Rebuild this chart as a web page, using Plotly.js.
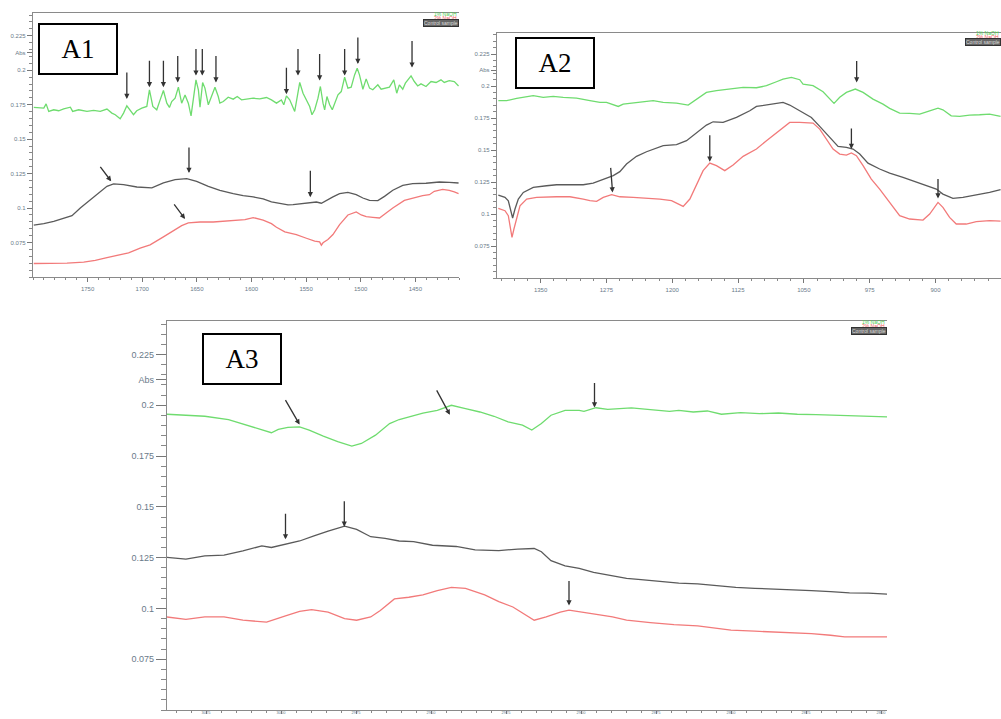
<!DOCTYPE html>
<html>
<head>
<meta charset="utf-8">
<script src="https://cdn.plot.ly/plotly-3.0.1.min.js"></script>
<style>html,body{margin:0;padding:0;background:#fff}#chart{width:1001px;height:719px}</style>
</head>
<body>
<div id="chart"></div>
<script>
// ---------------- DATA ----------------
// Panel A1 (1800-1410 cm-1)
const a1GreenWn = [1799.3,1790.1,1788.0,1785.6,1781.0,1776.5,1771.9,1765.8,1763.7,1758.2,1750.6,1744.5,1738.4,1732.3,1727.8,1724.7,1720.2,1717.1,1714.1,1711.0,1708.0,1705.0,1700.4,1695.8,1693.4,1690.3,1686.7,1683.6,1680.6,1677.5,1675.1,1673.0,1669.9,1666.9,1663.9,1660.8,1657.8,1655.3,1653.2,1650.8,1648.6,1647.1,1644.7,1642.6,1639.5,1636.5,1633.4,1630.4,1628.9,1625.8,1621.3,1616.7,1613.0,1609.1,1604.5,1598.4,1592.4,1586.3,1581.7,1577.1,1572.6,1570.4,1568.0,1565.0,1560.4,1558.0,1555.8,1552.8,1549.7,1546.7,1544.6,1542.1,1539.1,1536.9,1534.5,1533.0,1530.9,1528.4,1526.0,1523.9,1520.8,1517.8,1514.7,1511.7,1508.7,1505.6,1503.2,1501.1,1498.0,1495.0,1491.9,1488.9,1484.3,1481.3,1476.7,1473.7,1469.7,1467.0,1464.6,1461.5,1459.1,1456.0,1453.9,1450.9,1447.8,1444.8,1440.2,1435.6,1431.0,1426.5,1423.5,1418.9,1414.3,1410.4];
const a1GreenAbs = [0.1730,0.1725,0.1756,0.1701,0.1713,0.1706,0.1720,0.1732,0.1701,0.1713,0.1701,0.1708,0.1701,0.1718,0.1689,0.1677,0.1648,0.1689,0.1742,0.1713,0.1677,0.1706,0.1725,0.1737,0.1858,0.1737,0.1713,0.1785,0.1853,0.1761,0.1730,0.1773,0.1797,0.1877,0.1761,0.1821,0.1761,0.1669,0.1785,0.1930,0.1858,0.1732,0.1911,0.1870,0.1749,0.1809,0.1877,0.1809,0.1761,0.1773,0.1804,0.1790,0.1809,0.1785,0.1792,0.1797,0.1792,0.1802,0.1785,0.1761,0.1785,0.1749,0.1814,0.1785,0.1701,0.1809,0.1911,0.1833,0.1785,0.1737,0.1677,0.1713,0.1797,0.1882,0.1761,0.1713,0.1809,0.1749,0.1713,0.1761,0.1821,0.1845,0.1949,0.1870,0.1877,0.1966,0.2014,0.1966,0.1862,0.1937,0.1870,0.1858,0.1894,0.1862,0.1870,0.1877,0.1930,0.1833,0.1894,0.1862,0.1906,0.1935,0.1959,0.1918,0.1886,0.1901,0.1882,0.1918,0.1911,0.1930,0.1911,0.1924,0.1918,0.1886];
const a1BlackWn = [1799.3,1790.1,1781.0,1773.4,1764.3,1756.7,1747.5,1738.4,1732.3,1726.2,1717.1,1704.9,1691.2,1680.6,1669.9,1659.3,1650.2,1639.5,1628.9,1616.7,1607.6,1598.4,1589.3,1581.7,1574.1,1566.5,1561.9,1555.8,1546.7,1540.6,1536.0,1531.5,1525.4,1519.3,1511.7,1504.1,1498.0,1491.9,1484.3,1478.2,1470.6,1461.5,1452.4,1440.2,1428.0,1418.9,1410.4];
const a1BlackAbs = [0.0876,0.0887,0.0904,0.0921,0.0945,0.1001,0.1061,0.1122,0.1158,0.1175,0.1170,0.1153,0.1146,0.1182,0.1206,0.1213,0.1194,0.1158,0.1129,0.1105,0.1090,0.1081,0.1066,0.1045,0.1032,0.1023,0.1025,0.1032,0.1042,0.1044,0.1035,0.1056,0.1081,0.1105,0.1114,0.1097,0.1073,0.1056,0.1054,0.1085,0.1129,0.1165,0.1177,0.1180,0.1189,0.1187,0.1182];
const a1RedWn = [1799.3,1784.1,1768.9,1753.6,1743.0,1732.3,1723.2,1712.5,1701.9,1692.8,1680.6,1671.5,1663.9,1657.8,1647.1,1635.0,1622.8,1613.6,1606.0,1598.4,1589.3,1581.7,1577.1,1569.5,1558.9,1549.7,1542.1,1537.6,1536.0,1534.5,1530.0,1525.4,1519.3,1511.7,1504.1,1499.5,1494.9,1488.9,1482.8,1476.7,1470.6,1460.0,1452.4,1443.3,1437.1,1432.6,1425.0,1418.9,1414.3,1410.4];
const a1RedAbs = [0.0598,0.0598,0.0600,0.0608,0.0620,0.0641,0.0658,0.0675,0.0709,0.0733,0.0791,0.0837,0.0873,0.0892,0.0899,0.0899,0.0904,0.0909,0.0916,0.0931,0.0912,0.0887,0.0861,0.0827,0.0808,0.0781,0.0760,0.0755,0.0731,0.0748,0.0772,0.0808,0.0880,0.0950,0.0972,0.0950,0.0938,0.0933,0.0928,0.0965,0.1001,0.1056,0.1073,0.1090,0.1097,0.1122,0.1136,0.1129,0.1117,0.1105];
const a1ArrowWn  = [1714.1,1693.4,1680.6,1667.5,1650.8,1645.0,1632.5,1568.0,1557.4,1537.6,1514.7,1502.6,1453.0, 1728.4,1657.2,1546.1, 1660.8];
const a1ArrowAbs = [0.1792,0.1877,0.1877,0.1911,0.1961,0.1961,0.1911,0.1826,0.1961,0.1925,0.1961,0.2045,0.2019, 0.1194,0.1254,0.1078, 0.0921];

// Panel A2 (1400-825 cm-1)
const a2GreenWn = [1398.2,1388.7,1377.3,1369.7,1358.4,1347.0,1335.6,1324.2,1309.0,1293.8,1282.4,1274.9,1261.5,1255.9,1244.5,1233.1,1221.7,1210.3,1195.1,1181.8,1172.4,1161.0,1149.6,1134.4,1119.2,1104.0,1092.6,1081.2,1073.7,1064.2,1054.7,1050.9,1039.5,1028.1,1015.6,1009.1,1001.5,991.3,982.5,971.2,959.8,952.2,940.8,929.4,918.0,906.6,897.1,891.5,882.0,872.5,861.1,849.7,838.3,825.8];
const a2GreenAbs = [0.1886,0.1886,0.1904,0.1912,0.1925,0.1912,0.1919,0.1912,0.1906,0.1886,0.1872,0.1872,0.1841,0.1859,0.1867,0.1878,0.1886,0.1872,0.1867,0.1852,0.1898,0.1951,0.1964,0.1977,0.1990,0.1987,0.2003,0.2034,0.2055,0.2068,0.2050,0.2016,0.2003,0.1956,0.1865,0.1912,0.1951,0.1977,0.1951,0.1898,0.1859,0.1826,0.1789,0.1787,0.1781,0.1807,0.1828,0.1815,0.1768,0.1763,0.1773,0.1776,0.1781,0.1763];
const a2BlackWn = [1398.2,1390.6,1386.8,1384.2,1381.9,1379.2,1375.4,1369.7,1358.4,1343.2,1331.8,1316.6,1301.4,1290.1,1278.6,1267.2,1259.7,1252.1,1240.7,1229.3,1210.3,1195.1,1183.7,1172.4,1161.0,1153.4,1142.0,1126.8,1111.6,1104.0,1088.8,1073.7,1066.1,1054.7,1041.4,1031.9,1020.5,1011.0,1001.5,993.9,986.3,976.9,963.6,952.2,937.0,921.8,910.4,899.0,891.5,880.1,868.7,853.5,838.3,825.8];
const a2BlackAbs = [0.1148,0.1130,0.1104,0.1026,0.0969,0.1039,0.1117,0.1169,0.1208,0.1221,0.1229,0.1229,0.1229,0.1242,0.1268,0.1300,0.1331,0.1391,0.1451,0.1487,0.1534,0.1542,0.1573,0.1633,0.1695,0.1721,0.1716,0.1755,0.1807,0.1841,0.1859,0.1872,0.1852,0.1807,0.1755,0.1685,0.1599,0.1529,0.1521,0.1508,0.1469,0.1398,0.1352,0.1320,0.1287,0.1248,0.1221,0.1195,0.1156,0.1122,0.1130,0.1148,0.1169,0.1190];
const a2RedWn = [1398.2,1390.6,1386.8,1384.2,1382.6,1380.4,1377.3,1373.5,1365.9,1354.6,1331.8,1316.6,1301.4,1293.8,1286.2,1278.6,1269.1,1259.7,1244.5,1225.5,1214.1,1200.8,1187.5,1179.9,1172.4,1164.8,1157.2,1149.6,1140.1,1130.6,1119.2,1104.0,1092.6,1077.4,1066.1,1054.7,1039.5,1031.9,1024.3,1016.7,1009.1,1001.5,995.8,990.1,982.5,973.1,963.6,952.2,940.8,929.4,914.2,906.6,897.1,891.5,883.9,876.3,864.9,853.5,838.3,825.8];
const a2RedAbs = [0.1044,0.1026,0.0987,0.0883,0.0818,0.0883,0.0974,0.1065,0.1117,0.1130,0.1135,0.1135,0.1117,0.1104,0.1099,0.1130,0.1151,0.1135,0.1130,0.1122,0.1117,0.1104,0.1060,0.1117,0.1221,0.1339,0.1398,0.1378,0.1339,0.1383,0.1451,0.1508,0.1573,0.1651,0.1716,0.1716,0.1711,0.1664,0.1586,0.1508,0.1469,0.1461,0.1477,0.1456,0.1378,0.1273,0.1195,0.1091,0.0987,0.0961,0.0953,0.1000,0.1091,0.1052,0.0974,0.0922,0.0922,0.0940,0.0948,0.0945];
const a2ArrowWn  = [989.8, 995.8, 1157.2, 1268.0, 897.1];
const a2ArrowAbs = [0.2029, 0.1508, 0.1409, 0.1169, 0.1122];

// Panel A3 (3040-2798 cm-1)
const a3GreenWn = [3038.0,3031.7,3025.4,3017.5,3009.6,3003.2,3000.9,2997.7,2993.8,2990.6,2985.9,2981.1,2976.4,2973.2,2968.5,2963.8,2960.6,2957.4,2952.7,2947.9,2943.2,2938.5,2933.7,2929.0,2924.3,2919.5,2916.4,2913.2,2910.0,2905.3,2900.6,2899.0,2895.0,2891.1,2888.0,2883.2,2876.9,2870.5,2867.4,2862.6,2857.9,2853.2,2846.8,2840.5,2834.2,2827.9,2821.6,2815.3,2808.9,2802.6,2797.9];
const a3GreenAbs = [0.1956,0.1951,0.1946,0.1930,0.1894,0.1865,0.1881,0.1891,0.1894,0.1878,0.1848,0.1821,0.1799,0.1812,0.1853,0.1910,0.1930,0.1943,0.1962,0.1975,0.2000,0.1984,0.1967,0.1946,0.1918,0.1902,0.1878,0.1910,0.1951,0.1975,0.1975,0.1970,0.1988,0.1980,0.1984,0.1987,0.1979,0.1970,0.1975,0.1967,0.1972,0.1956,0.1964,0.1959,0.1962,0.1956,0.1954,0.1951,0.1946,0.1946,0.1943];
const a3BlackWn = [3038.0,3031.7,3025.4,3019.0,3012.7,3006.4,3003.2,2998.5,2993.8,2989.0,2984.3,2978.8,2974.8,2970.1,2965.3,2960.6,2955.8,2949.5,2941.6,2935.3,2927.4,2921.1,2915.6,2913.2,2910.0,2905.3,2900.6,2895.8,2889.5,2884.8,2880.0,2873.7,2867.4,2861.1,2854.8,2848.4,2842.1,2835.8,2829.5,2823.2,2816.8,2810.5,2804.2,2797.9];
const a3BlackAbs = [0.1251,0.1243,0.1259,0.1262,0.1283,0.1308,0.1300,0.1316,0.1332,0.1357,0.1381,0.1405,0.1389,0.1353,0.1345,0.1332,0.1329,0.1311,0.1305,0.1288,0.1285,0.1292,0.1295,0.1279,0.1235,0.1210,0.1197,0.1178,0.1161,0.1148,0.1142,0.1132,0.1125,0.1121,0.1112,0.1104,0.1099,0.1096,0.1091,0.1088,0.1083,0.1077,0.1075,0.1070];
const a3RedWn = [3038.0,3031.7,3025.4,3019.0,3012.7,3004.8,2998.5,2993.8,2989.8,2984.3,2978.8,2974.8,2970.1,2966.9,2962.2,2957.4,2952.7,2947.9,2943.2,2938.5,2932.1,2927.4,2922.7,2918.7,2915.6,2911.6,2906.9,2904.0,2899.0,2894.3,2889.5,2884.8,2876.9,2869.0,2861.1,2854.7,2850.0,2842.1,2835.8,2829.5,2823.2,2816.8,2812.1,2804.2,2797.9];
const a3RedAbs = [0.0958,0.0946,0.0958,0.0958,0.0942,0.0933,0.0963,0.0985,0.0994,0.0982,0.0950,0.0942,0.0958,0.0990,0.1047,0.1055,0.1067,0.1088,0.1104,0.1099,0.1067,0.1034,0.1007,0.0969,0.0942,0.0958,0.0982,0.0992,0.0982,0.0969,0.0958,0.0942,0.0930,0.0920,0.0914,0.0904,0.0893,0.0888,0.0885,0.0880,0.0876,0.0868,0.0860,0.0860,0.0860];
const a3ArrowWn  = [2993.8, 2943.7, 2895.5, 2998.5, 2978.9, 2904.0];
const a3ArrowAbs = [0.1905, 0.1953, 0.1989, 0.1340, 0.1402, 0.1015];

// Tick labels
const yTickVals = [0.075, 0.1, 0.125, 0.15, 0.175, 0.2, 0.2125, 0.225];
const yTickText = ['0.075', '0.1', '0.125', '0.15', '0.175', '0.2', 'Abs', '0.225'];
const a1XTicks = [1750, 1700, 1650, 1600, 1550, 1500, 1450];
const a2XTicks = [1350, 1275, 1200, 1125, 1050, 975, 900, 825];
const a3XTicks = [3025, 3000, 2975, 2950, 2925, 2900, 2875, 2850, 2825, 2800];
const panelLabels = ['A1', 'A2', 'A3'];
const legendTexts = ['1% NaOH', '2% NaOH', 'Control sample'];

// ---------------- STYLE / BUILD ----------------
const GREEN = '#6fdc6f', BLACK = '#5a5a5a', RED = '#f27a7a';
const W = 1001, H = 719;
const px = v => v / W, py = v => 1 - v / H;

function line(x, y, color, xa, ya) {
  return {x: x, y: y, type: 'scatter', mode: 'lines', xaxis: xa, yaxis: ya,
          line: {color: color, width: 1.3}, hoverinfo: 'skip'};
}
const traces = [
  line(a1GreenWn, a1GreenAbs, GREEN, 'x', 'y'),
  line(a1BlackWn, a1BlackAbs, BLACK, 'x', 'y'),
  line(a1RedWn, a1RedAbs, RED, 'x', 'y'),
  line(a2GreenWn, a2GreenAbs, GREEN, 'x2', 'y2'),
  line(a2BlackWn, a2BlackAbs, BLACK, 'x2', 'y2'),
  line(a2RedWn, a2RedAbs, RED, 'x2', 'y2'),
  line(a3GreenWn, a3GreenAbs, GREEN, 'x3', 'y3'),
  line(a3BlackWn, a3BlackAbs, BLACK, 'x3', 'y3'),
  line(a3RedWn, a3RedAbs, RED, 'x3', 'y3')
];

function xAxis(domain, range, ticks, minor, anchor, fs, tl, standoff) {
  return {domain: domain, range: range, anchor: anchor, showgrid: false, zeroline: false,
    showline: true, linecolor: '#8a8a8a', linewidth: 1.2, mirror: true,
    ticks: 'outside', ticklen: tl, tickcolor: '#777', tickwidth: 1,
    tickmode: 'array', tickvals: ticks, ticktext: ticks.map(String),
    ticklabelstandoff: standoff,
    minor: {dtick: minor, ticks: 'outside', ticklen: Math.max(2, tl - 2), tickcolor: '#888', showgrid: false},
    tickfont: {family: 'Arial, Liberation Sans, sans-serif', size: fs, color: '#6a7a8a'}};
}
function yAxis(domain, anchor, fs, tl, showLabels) {
  return {domain: domain, range: [0.05, 0.2415], anchor: anchor, showgrid: false, zeroline: false,
    showline: true, linecolor: '#8a8a8a', linewidth: 1.2,
    ticks: 'outside', ticklen: tl, tickcolor: '#777', tickwidth: 1,
    tickmode: 'array', tickvals: yTickVals, ticktext: yTickText, showticklabels: showLabels,
    minor: {dtick: 0.005, tick0: 0, ticks: 'outside', ticklen: Math.max(2, Math.round(tl / 2)), tickcolor: '#888', showgrid: false},
    tickfont: {family: 'Arial, Liberation Sans, sans-serif', size: fs, color: '#6a7a8a'}};
}

const annotations = [];
// arrows
function addArrows(wn, ab, xr, yr, offs) {
  wn.forEach((w, i) => {
    annotations.push({x: w, y: ab[i], xref: xr, yref: yr, text: '', showarrow: true,
      ax: offs[i][0], ay: offs[i][1], arrowhead: 2, arrowsize: 0.8, arrowwidth: 1.3,
      arrowcolor: '#333', standoff: 0, startstandoff: 0});
  });
}
const a1Off = [[0,-28],[0,-28],[0,-28],[0,-28],[0,-28],[0,-28],[0,-28],[0,-28],[0,-28],[0,-28],[0,-28],[0,-28],[0,-28],[-12,-16],[0,-27],[0,-28],[-12,-16]];
const a2Off = [[0,-23],[0,-22],[0,-28],[-2,-26],[0,-21]];
const a3Off = [[-15,-26],[-14,-26],[0,-26],[0,-27],[0,-27],[0,-26]];
addArrows(a1ArrowWn, a1ArrowAbs, 'x', 'y', a1Off);
addArrows(a2ArrowWn, a2ArrowAbs, 'x2', 'y2', a2Off);
addArrows(a3ArrowWn, a3ArrowAbs, 'x3', 'y3', a3Off);

// panel label boxes
const boxes = [[38, 23], [515, 37], [202, 333]];
boxes.forEach((b, i) => {
  annotations.push({xref: 'paper', yref: 'paper', x: px(b[0]), y: py(b[1]), xanchor: 'left', yanchor: 'top',
    text: panelLabels[i], showarrow: false, width: 76, height: 48, borderpad: 0,
    bordercolor: '#000', borderwidth: 2, bgcolor: '#fff',
    font: {family: 'Liberation Serif, Times New Roman, serif', size: 27, color: '#000'}});
});

// tiny legends
const legends = [[459, 14], [1001, 33], [887, 322]];
legends.forEach(l => {
  annotations.push({xref: 'paper', yref: 'paper', x: px(l[0]), y: py(l[1]), xanchor: 'right', yanchor: 'middle',
    text: legendTexts[0], showarrow: false, font: {family: 'Arial', size: 5, color: '#4ccc4c'}});
  annotations.push({xref: 'paper', yref: 'paper', x: px(l[0]), y: py(l[1] + 4), xanchor: 'right', yanchor: 'middle',
    text: legendTexts[1], showarrow: false, font: {family: 'Arial', size: 5, color: '#ee5555'}});
  annotations.push({xref: 'paper', yref: 'paper', x: px(l[0]), y: py(l[1] + 9), xanchor: 'right', yanchor: 'middle',
    text: legendTexts[2], showarrow: false, bgcolor: '#666', bordercolor: '#333', borderwidth: 1, borderpad: 0,
    font: {family: 'Arial', size: 5, color: '#ddd'}});
});

const layout = {
  width: W, height: H, margin: {l: 0, r: 0, t: 0, b: 0},
  paper_bgcolor: '#fff', plot_bgcolor: '#fff', showlegend: false, hovermode: false,
  xaxis: xAxis([px(33), px(459)], [1800, 1410], a1XTicks, 10, 'y', 6, 4, 2),
  yaxis: yAxis([py(277), py(13)], 'x', 6, 5, true),
  xaxis2: xAxis([px(497), 1], [1399.7, 825.3], a2XTicks, 15, 'y2', 6, 4, 2),
  yaxis2: yAxis([py(278), py(33)], 'x2', 6, 5, true),
  xaxis3: xAxis([px(167), px(887)], [3038, 2798], a3XTicks, 5, 'y3', 4, 3, -5),
  yaxis3: yAxis([py(710), py(321)], 'x3', 9, 10, true),
  annotations: annotations
};

Plotly.newPlot('chart', traces, layout, {staticPlot: true, displayModeBar: false});
</script>
</body>
</html>
